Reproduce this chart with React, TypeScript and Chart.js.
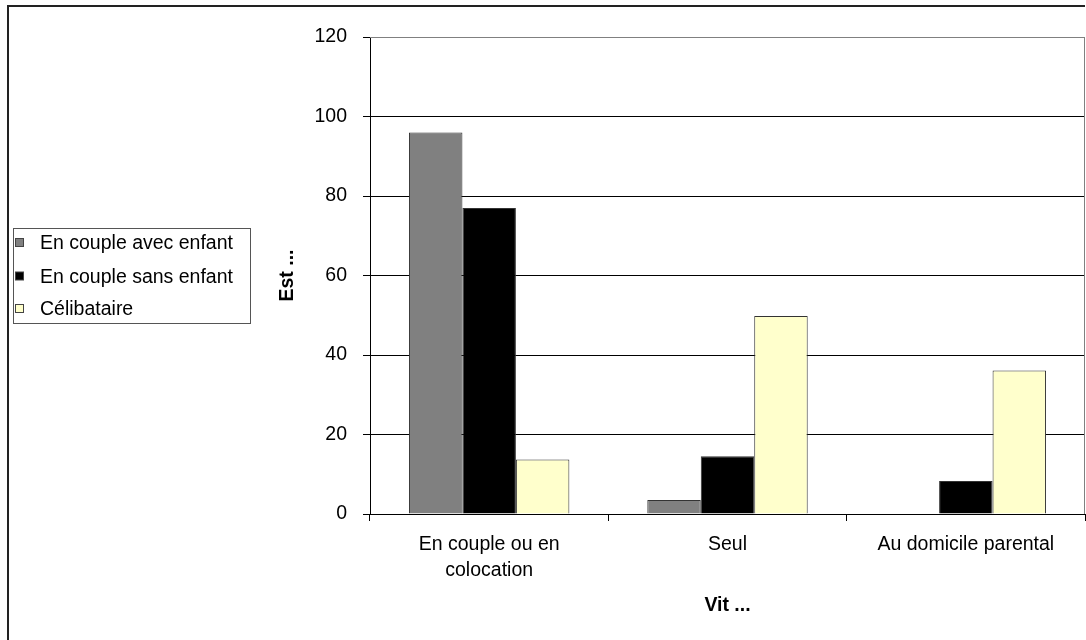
import React, { useEffect, useRef } from "react";
import { Chart, registerables } from "chart.js";

Chart.register(...registerables);

const categories: (string | string[])[] = [["En couple ou en", "colocation"], "Seul", "Au domicile parental"];
const seriesNames = ["En couple avec enfant", "En couple sans enfant", "Célibataire"];
const avecEnfant = [96, 3.5, 0];
const sansEnfant = [77, 14.5, 8.3];
const celibataire = [13.7, 49.8, 36.1];
const yTicks = [0, 20, 40, 60, 80, 100, 120];
const xTitle = "Vit ...";
const yTitle = "Est ...";

const colors = ["#808080", "#000000", "#FFFFCC"];
const FONT = "'Liberation Sans', Arial, sans-serif";
const FS = 19.5;

export default function App() {
  const ref = useRef<HTMLCanvasElement | null>(null);

  useEffect(() => {
    document.body.style.margin = "0";
    const canvas = ref.current;
    if (!canvas) return;

    const framePlugin = {
      id: "frame",
      beforeDraw(chart: any) {
        const ctx = chart.ctx;
        ctx.save();
        ctx.fillStyle = "#ffffff";
        ctx.fillRect(0, 0, chart.width, chart.height);
        ctx.strokeStyle = "#222222";
        ctx.lineWidth = 2;
        ctx.beginPath();
        ctx.moveTo(8, chart.height + 5);
        ctx.lineTo(8, 6);
        ctx.lineTo(chart.width - 1, 6);
        ctx.stroke();
        ctx.restore();
      },
      afterDraw(chart: any) {
        const ctx = chart.ctx;
        const a = chart.chartArea;
        ctx.save();
        // plot border (top/right)
        ctx.strokeStyle = "#808080";
        ctx.lineWidth = 1;
        ctx.beginPath();
        ctx.moveTo(a.left, a.top + 0.5);
        ctx.lineTo(a.right - 0.5, a.top + 0.5);
        ctx.lineTo(a.right - 0.5, a.bottom);
        ctx.stroke();

        // legend
        const bx = 13.5, by = 228.5, bw = 237, bh = 95;
        ctx.strokeStyle = "#555555";
        ctx.lineWidth = 1;
        ctx.strokeRect(bx, by, bw, bh);
        ctx.font = `${FS}px ${FONT}`;
        ctx.textBaseline = "middle";
        ctx.textAlign = "left";
        const rows = [243, 276.5, 309];
        chart.data.datasets.forEach((ds: any, i: number) => {
          const cy = rows[i];
          ctx.fillStyle = ds.backgroundColor;
          ctx.fillRect(15.5, cy - 4.5, 8, 8);
          ctx.strokeStyle = "#444444";
          ctx.strokeRect(15.5, cy - 4.5, 8, 8);
          ctx.fillStyle = "#000000";
          ctx.fillText(ds.label, 40, cy + 1);
        });
        ctx.restore();
      },
    };

    const chart = new Chart(canvas, {
      type: "bar",
      data: {
        labels: categories,
        datasets: [
          { label: seriesNames[0], data: avecEnfant, backgroundColor: colors[0] },
          { label: seriesNames[1], data: sansEnfant, backgroundColor: colors[1] },
          { label: seriesNames[2], data: celibataire, backgroundColor: colors[2] },
        ].map((d) => ({
          ...d,
          borderColor: "#333333",
          borderWidth: 1,
          borderSkipped: "bottom",
          categoryPercentage: 0.673,
          barPercentage: 1,
        })) as any,
      },
      options: {
        responsive: false,
        animation: false,
        layout: { padding: { left: 0, top: 37, right: 1, bottom: 0 } },
        plugins: {
          legend: { display: false },
          tooltip: { enabled: false },
        },
        scales: {
          x: {
            grid: {
              display: true,
              drawOnChartArea: false,
              drawTicks: true,
              tickLength: 7,
              offset: true,
              color: "#000000",
            },
            border: { display: true, color: "#000000" },
            ticks: {
              color: "#000000",
              font: { family: FONT, size: FS, lineHeight: 1.35 },
              padding: 10,
              maxRotation: 0,
              autoSkip: false,
            },
            title: {
              display: true,
              text: xTitle,
              color: "#000000",
              font: { family: FONT, size: FS, weight: "bold" },
              padding: { top: 0, bottom: 22.3 },
            },
            afterFit(scale: any) {
              scale.height = 126;
            },
          },
          y: {
            min: 0,
            max: 120,
            afterBuildTicks(scale: any) {
              scale.ticks = yTicks.map((v) => ({ value: v }));
            },
            grid: {
              color: (c: any) => (c.tick && c.tick.value === 120 ? "#808080" : "#000000"),
              tickColor: "#000000",
              tickLength: 7,
              drawTicks: true,
            },
            border: { display: true, color: "#000000" },
            ticks: {
              color: "#000000",
              font: { family: FONT, size: FS },
              padding: 16,
            },
            title: {
              display: true,
              text: yTitle,
              color: "#000000",
              font: { family: FONT, size: FS, weight: "bold" },
              padding: { top: 276.3, bottom: 0 },
            },
            afterFit(scale: any) {
              scale.width = 370;
            },
          },
        },
      },
      plugins: [framePlugin],
    });

    return () => chart.destroy();
  }, []);

  return (
    <div style={{ width: 1086, height: 640 }}>
      <canvas ref={ref} width={1086} height={640} style={{ display: "block" }} />
    </div>
  );
}
